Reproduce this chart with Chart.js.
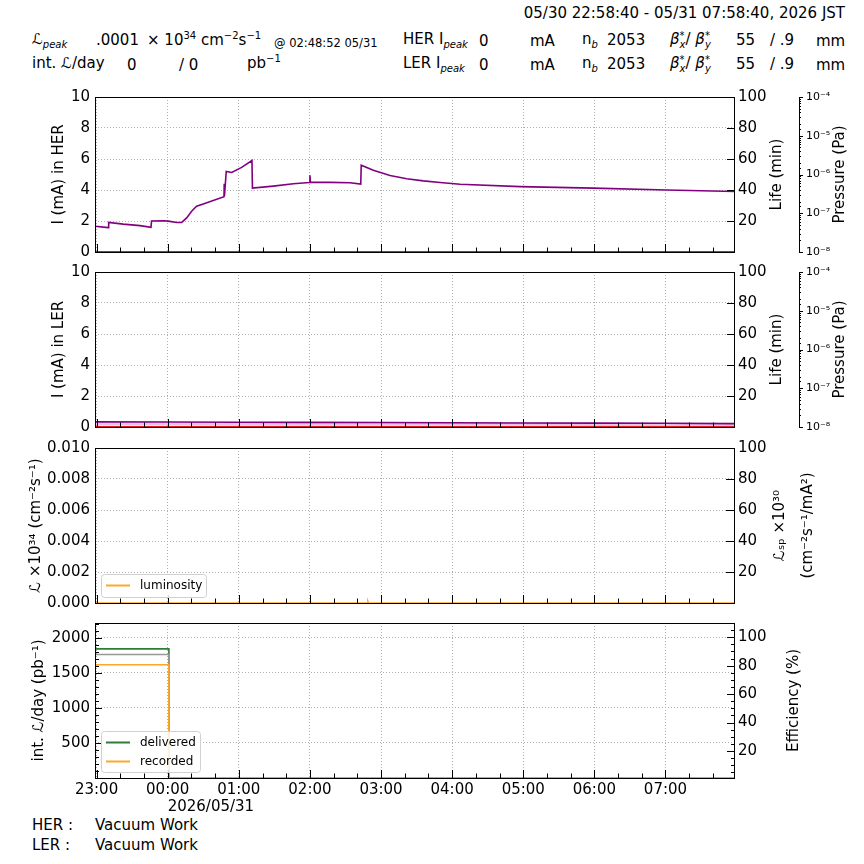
<!DOCTYPE html>
<html>
<head>
<meta charset="utf-8">
<script src="https://cdn.jsdelivr.net/npm/chart.js@4.4.0/dist/chart.umd.min.js"></script>
<style>
  body { margin: 0; width: 864px; height: 864px; background: #fff; position: relative; overflow: hidden;
         font-family: 'DejaVu Sans'; font-size: 15px; color: #000; }
  canvas { position: absolute; left: 0; }
  .t { position: absolute; white-space: nowrap; line-height: 15px; }
  .sm { font-size: 11.5px; }
  sub, sup { font-size: 10px; line-height: 0; }
  .sb { display: inline-block; vertical-align: -4px; font-size: 10px; line-height: 9px; font-style: italic; text-align: left; }
</style>
</head>
<body>
<!-- header -->
<div class="t" style="right:19px;top:6px">05/30 22:58:40 - 05/31 07:58:40, 2026 JST</div>

<div class="t" style="left:32px;top:32px"><i>ℒ</i><sub><i>peak</i></sub></div>
<div class="t" style="left:96px;top:33px">.0001</div>
<div class="t" style="left:147px;top:33px">× 10<sup>34</sup> cm<sup>−2</sup>s<sup>−1</sup></div>
<div class="t sm" style="left:274px;top:36px">@ 02:48:52 05/31</div>
<div class="t" style="left:403px;top:32px">HER I<sub><i>peak</i></sub></div>
<div class="t" style="left:479px;top:34px">0</div>
<div class="t" style="left:530px;top:34px">mA</div>
<div class="t" style="left:582px;top:32px">n<sub><i>b</i></sub></div>
<div class="t" style="left:607px;top:33px">2053</div>
<div class="t" style="left:670px;top:31px"><i>β</i><span class="sb">*<br>x</span>/ <i>β</i><span class="sb">*<br>y</span></div>
<div class="t" style="left:736px;top:33px">55</div>
<div class="t" style="left:770px;top:33px">/ .9</div>
<div class="t" style="left:816px;top:34px">mm</div>

<div class="t" style="left:32px;top:56px">int. <i>ℒ</i>/day</div>
<div class="t" style="left:127px;top:58px">0</div>
<div class="t" style="left:179px;top:58px">/ 0</div>
<div class="t" style="left:247px;top:56px">pb<sup>−1</sup></div>
<div class="t" style="left:403px;top:56px">LER I<sub><i>peak</i></sub></div>
<div class="t" style="left:479px;top:58px">0</div>
<div class="t" style="left:530px;top:58px">mA</div>
<div class="t" style="left:582px;top:56px">n<sub><i>b</i></sub></div>
<div class="t" style="left:607px;top:57px">2053</div>
<div class="t" style="left:670px;top:55px"><i>β</i><span class="sb">*<br>x</span>/ <i>β</i><span class="sb">*<br>y</span></div>
<div class="t" style="left:736px;top:57px">55</div>
<div class="t" style="left:770px;top:57px">/ .9</div>
<div class="t" style="left:816px;top:58px">mm</div>

<!-- footer -->
<div class="t" style="left:32px;top:818px">HER :</div>
<div class="t" style="left:95px;top:818px">Vacuum Work</div>
<div class="t" style="left:32px;top:838px">LER :</div>
<div class="t" style="left:95px;top:838px">Vacuum Work</div>

<script>
// ===============================================================================
// 1. Data (time = minutes after 23:00, window 22:58:40 - 07:58:40)
// ===============================================================================
var tMin = -1 - 20 / 60;
var tMax = 538 + 40 / 60;
var hourLabels = ['23:00', '00:00', '01:00', '02:00', '03:00', '04:00', '05:00', '06:00', '07:00'];
var dateLabel = '2026/05/31';

var zeroTime = [tMin, tMax];
var zeroVal = [0, 0];

// HER current (mA)
var herTime = [tMin, 9.9, 10.2, 22.5, 36.6, 45.9, 46.4, 56.3, 60.5, 67.6, 71.8, 76.0, 80.2, 84.4, 90.0,
               107.5, 107.7, 107.9, 109.4, 114.0, 122.4, 131.1, 131.5, 149.1, 166.0, 179.5, 180.0, 180.4,
               197.0, 213.8, 222.9, 223.3, 233.5, 247.6, 261.7, 275.7, 289.8, 306.7, 357.3, 419.1, 481.1, tMax];
var herCur  = [1.66, 1.57, 1.91, 1.80, 1.70, 1.59, 2.00, 2.02, 1.99, 1.90, 1.91, 2.20, 2.63, 2.95, 3.10,
               3.57, 4.40, 3.60, 5.20, 5.13, 5.46, 5.90, 4.12, 4.25, 4.40, 4.48, 4.95, 4.50,
               4.49, 4.47, 4.38, 5.60, 5.27, 4.93, 4.73, 4.59, 4.48, 4.37, 4.22, 4.12, 4.00, 3.90];

// LER current (mA) and life (min)
var lerTime = [tMin, 60, 120, 180, 240, 300, 360, 420, 480, tMax];
var lerCur  = [0.33, 0.32, 0.31, 0.30, 0.29, 0.27, 0.26, 0.25, 0.24, 0.22];
var lerLife = [1.9, 1.9, 1.8, 1.8, 1.8, 1.7, 1.7, 1.6, 1.6, 1.5];

// luminosity (x10^34)
var lumTime = [tMin, 228.4, 228.9, 229.4, tMax];
var lumVal  = [0, 0, 0.0001, 0, 0];

// integrated luminosity per day (pb^-1), reset just after midnight
var intTime   = [tMin, 61, 61, tMax];
var delivered = [1841, 1841, 0, 0];
var expected  = [1760, 1760, 0, 0];
var recorded  = [1615, 1615, 0, 0];

var curTicks = [0, 2, 4, 6, 8, 10];
var lifeTicks = [0, 20, 40, 60, 80, 100];
var lumTicks = [0, 0.002, 0.004, 0.006, 0.008, 0.010];
var intTicks = [500, 1000, 1500, 2000];
var effTicks = [20, 40, 60, 80, 100];

// ===============================================================================
// 2. Helpers
// ===============================================================================
Chart.defaults.font.family = 'DejaVu Sans';
Chart.defaults.font.size = 15;
Chart.defaults.color = '#000';

var supChars = {'-': '⁻', '0': '⁰', '1': '¹', '2': '²', '3': '³', '4': '⁴', '5': '⁵', '6': '⁶', '7': '⁷', '8': '⁸', '9': '⁹'};
function powLabel(v) {
  var e = Math.log10(v);
  if (Math.abs(e - Math.round(e)) > 1e-6) return '';
  return '10' + String(Math.round(e)).split('').map(function(c) { return supChars[c]; }).join('');
}

function xy(times, vals) {
  return times.map(function(t, i) { return {x: t, y: vals[i]}; });
}

function line(label, times, vals, color, width, axis) {
  return {label: label, data: xy(times, vals), borderColor: color, borderWidth: width,
          pointRadius: 0, fill: false, tension: 0, yAxisID: axis};
}

function fixedTicks(list) {
  return function(scale) { scale.ticks = list.map(function(v) { return {value: v}; }); };
}

var decoSpecs = {};

function drawTicks(chart, spec) {
  var ctx = chart.ctx, a = chart.chartArea, sc = chart.scales[spec.axis];
  var marks = [];
  sc.ticks.forEach(function(t) {
    marks.push([t.value, spec.log && !powLabel(t.value) ? spec.minor : spec.major]);
  });
  if (spec.step) {
    for (var v = Math.ceil(sc.min / spec.step) * spec.step; v <= sc.max; v += spec.step) marks.push([v, spec.minor]);
  }
  ctx.beginPath();
  marks.forEach(function(m) {
    var p = sc.getPixelForValue(m[0]);
    if (sc.isHorizontal()) {
      if (p < a.left || p > a.right) return;
      p = Math.round(p) + 0.5;
      ctx.moveTo(p, a.bottom); ctx.lineTo(p, a.bottom - m[1]);
    } else {
      if (p < a.top - 0.5 || p > a.bottom + 0.5) return;
      p = Math.round(p) + 0.5;
      var edge = sc.position === 'left' ? a.left : sc.left;
      var dir = sc.position === 'left' ? 1 : (spec.out ? 1 : -1);
      ctx.moveTo(edge, p); ctx.lineTo(edge + dir * m[1], p);
    }
  });
  ctx.strokeStyle = '#000'; ctx.lineWidth = 1;
  ctx.stroke();
}

var panelDeco = {
  id: 'panelDeco',
  afterDraw: function(chart) {
    var spec = decoSpecs[chart.canvas.id];
    var ctx = chart.ctx, a = chart.chartArea;
    ctx.save();
    // frame
    ctx.strokeStyle = '#000'; ctx.lineWidth = 1;
    ctx.strokeRect(a.left + 0.5, a.top + 0.5, a.right - a.left - 1, a.bottom - a.top);
    spec.ticks.forEach(function(t) { drawTicks(chart, t); });

    // axis titles, rotated to read bottom-to-top
    var midY = (a.top + a.bottom) / 2;
    ctx.fillStyle = '#000';
    ctx.font = '15px "DejaVu Sans"';
    ctx.textAlign = 'center'; ctx.textBaseline = 'middle';
    spec.titles.forEach(function(tt) {
      tt.lines.forEach(function(txt, i) {
        ctx.save();
        ctx.translate(tt.x + i * 28, midY);
        ctx.rotate(-Math.PI / 2);
        ctx.fillText(txt, 0, 0);
        ctx.restore();
      });
    });

    // date under the midnight tick, left aligned like the offset text
    if (spec.date) {
      ctx.textAlign = 'left';
      ctx.fillText(dateLabel, chart.scales.x.getPixelForValue(60), a.bottom + 29);
    }

    // legend box in the lower-left corner
    if (spec.legend) {
      var lg = spec.legend;
      var bx = a.left + 6, by = a.bottom - 6 - lg.h;
      ctx.beginPath();
      ctx.roundRect(bx + 0.5, by + 0.5, lg.w, lg.h, 3);
      ctx.fillStyle = 'rgba(255,255,255,0.85)'; ctx.fill();
      ctx.strokeStyle = '#d0d0d0'; ctx.lineWidth = 1; ctx.stroke();
      ctx.font = '12px "DejaVu Sans"'; ctx.textAlign = 'left';
      lg.items.forEach(function(di, i) {
        var ds = chart.data.datasets[di];
        var ly = by + 11.5 + i * 19;
        ctx.beginPath(); ctx.moveTo(bx + 5, ly); ctx.lineTo(bx + 29, ly);
        ctx.strokeStyle = ds.borderColor; ctx.lineWidth = 2; ctx.stroke();
        ctx.fillStyle = '#000'; ctx.fillText(ds.label, bx + 39, ly);
      });
    }
    ctx.restore();
  }
};

function xScale(showLabels, height) {
  return {
    type: 'linear', min: tMin, max: tMax,
    afterBuildTicks: function(scale) {
      scale.ticks = hourLabels.map(function(l, i) { return {value: i * 60}; });
    },
    ticks: {display: showLabels, padding: 3, maxRotation: 0, autoSkip: false,
            callback: function(v, i) { return hourLabels[i]; }},
    grid: {color: '#b0b0b0', drawTicks: false},
    border: {display: false, dash: [1, 2]},
    afterFit: function(scale) { scale.height = height; }
  };
}

function leftScale(min, max, ticks, fmt) {
  return {
    position: 'left', min: min, max: max,
    afterBuildTicks: fixedTicks(ticks),
    ticks: {padding: 5, callback: fmt || function(v) { return v; }},
    grid: {color: '#b0b0b0', drawTicks: false},
    border: {display: false, dash: [1, 2]},
    afterFit: function(scale) { scale.width = 95; }
  };
}

function rightScale(min, max, ticks, width) {
  return {
    position: 'right', min: min, max: max, weight: 0,
    afterBuildTicks: fixedTicks(ticks),
    ticks: {padding: 3, callback: function(v) { return v === 0 ? '' : v; }},
    grid: {drawOnChartArea: false, drawTicks: false},
    border: {display: false},
    afterFit: function(scale) { scale.width = width; }
  };
}

function pressureScale() {
  return {
    type: 'logarithmic', position: 'right', min: 1e-8, max: 1e-4, weight: 1,
    ticks: {padding: 7, autoSkip: false, font: {size: 11}, callback: powLabel},
    grid: {drawOnChartArea: false, drawTicks: false},
    border: {display: true, color: '#000', width: 1},
    afterFit: function(scale) { scale.width = 65; }
  };
}

function makePanel(id, plotTop, xHeight, datasets, scales, spec) {
  var padTop = 12, h = padTop + 157 + xHeight;
  var c = document.createElement('canvas');
  c.id = id; c.width = 864; c.height = h;
  c.style.top = (plotTop - padTop) + 'px';
  c.style.width = '864px'; c.style.height = h + 'px';
  document.body.appendChild(c);
  decoSpecs[id] = spec;
  return new Chart(c, {
    type: 'line',
    data: {datasets: datasets},
    options: {
      responsive: false, animation: false, events: [],
      layout: {padding: {top: padTop, left: 0, right: 0, bottom: 0}},
      plugins: {legend: {display: false}, tooltip: {enabled: false}},
      scales: scales
    },
    plugins: [panelDeco]
  });
}

// ===============================================================================
// 3. Panels
// ===============================================================================
var xTickSpec = {axis: 'x', major: 8, minor: 4.5, step: 20};
var presTickSpec = {axis: 'y2', major: 4, minor: 2, log: true, out: true};

makePanel('her', 95, 16, [
  line('HER current', herTime, herCur, '#800080', 1.6, 'y'),
  line('HER zero', zeroTime, zeroVal, '#e41a1c', 2, 'y')
], {
  x: xScale(false, 16), y: leftScale(0, 10, curTicks),
  y1: rightScale(0, 100, lifeTicks, 64), y2: pressureScale()
}, {
  ticks: [xTickSpec, {axis: 'y1', major: 8}, presTickSpec],
  titles: [{x: 59, lines: ['I (mA) in HER']}, {x: 777, lines: ['Life (min)']}, {x: 840, lines: ['Pressure (Pa)']}]
});

makePanel('ler', 270, 16, [
  line('LER current', lerTime, lerCur, '#800080', 1.6, 'y'),
  line('LER life', lerTime, lerLife, 'rgba(200,120,200,0.45)', 3, 'y1'),
  line('LER zero', zeroTime, zeroVal, '#e41a1c', 2, 'y')
], {
  x: xScale(false, 16), y: leftScale(0, 10, curTicks),
  y1: rightScale(0, 100, lifeTicks, 64), y2: pressureScale()
}, {
  ticks: [xTickSpec, {axis: 'y1', major: 8}, presTickSpec],
  titles: [{x: 59, lines: ['I (mA) in LER']}, {x: 777, lines: ['Life (min)']}, {x: 840, lines: ['Pressure (Pa)']}]
});

makePanel('lum', 446, 16, [
  line('luminosity', lumTime, lumVal, '#ffa726', 1.6, 'y')
], {
  x: xScale(false, 16),
  y: leftScale(0, 0.01, lumTicks, function(v) { return v.toFixed(3); }),
  y1: rightScale(0, 100, lifeTicks, 129)
}, {
  ticks: [xTickSpec, {axis: 'y1', major: 9}],
  titles: [{x: 36, lines: ['ℒ ×10³⁴ (cm⁻²s⁻¹)']}, {x: 780, lines: ['ℒₛₚ ×10³⁰', '(cm⁻²s⁻¹/mA²)']}],
  legend: {items: [0], w: 105, h: 23}
});

makePanel('int', 621, 46, [
  line('recorded', intTime, recorded, '#ffa726', 1.6, 'y'),
  line('expected', intTime, expected, '#999999', 1.6, 'y'),
  line('delivered', intTime, delivered, '#2e7d32', 1.6, 'y')
], {
  x: xScale(true, 46), y: leftScale(0, 2210, intTicks),
  y1: rightScale(1, 110, effTicks, 129)
}, {
  ticks: [xTickSpec, {axis: 'y', major: 7, minor: 4, step: 100}, {axis: 'y1', major: 8, minor: 4, step: 5}],
  titles: [{x: 39, lines: ['int. ℒ/day (pb⁻¹)']}, {x: 794, lines: ['Efficiency (%)']}],
  legend: {items: [2, 0], w: 99, h: 41},
  date: true
});
</script>
</body>
</html>
